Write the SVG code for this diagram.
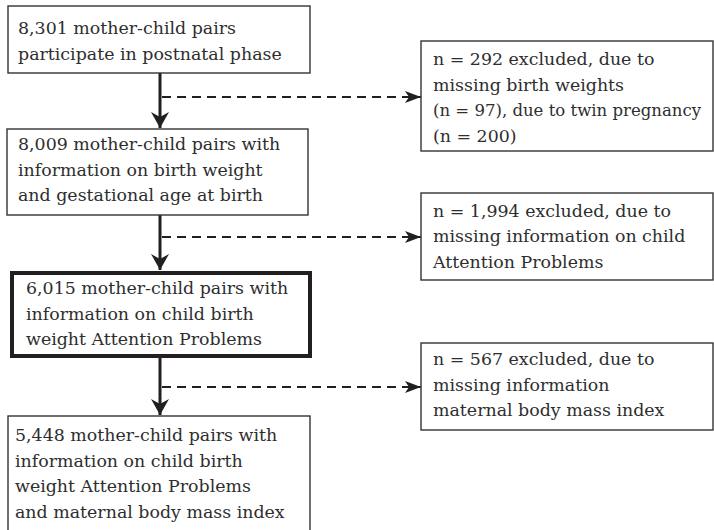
<svg xmlns="http://www.w3.org/2000/svg" width="714" height="530" viewBox="0 0 714 530">
<style>
  .box { fill: #ffffff; stroke: #333333; stroke-width: 1.4; }
  .thick { fill: #ffffff; stroke: #231f20; stroke-width: 4; }
  .t { font-family: "DejaVu Serif", "Liberation Serif", serif; font-size: 17.4px; fill: #2e2e2e; }
  .main { stroke: #231f20; stroke-width: 3; fill: none; }
  .dash { stroke: #231f20; stroke-width: 2; fill: none; stroke-dasharray: 9 6; }
</style>
<defs>
  <marker id="headV" markerUnits="userSpaceOnUse" markerWidth="18" markerHeight="18" refX="16" refY="9" orient="auto" viewBox="0 0 18 18">
    <path d="M0,0 L16,9 L0,18 L5,9 Z" fill="#231f20"/>
  </marker>
  <marker id="headH" markerUnits="userSpaceOnUse" markerWidth="16" markerHeight="13" refX="16" refY="6.5" orient="auto" viewBox="0 0 16 13">
    <path d="M0,0 L16,6.5 L0,13 L4,6.5 Z" fill="#231f20"/>
  </marker>
</defs>
<rect width="714" height="530" fill="#ffffff"/>

<g id="connectors">
  <line class="main" x1="160" y1="73" x2="160" y2="128" marker-end="url(#headV)"/>
  <line class="main" x1="160" y1="215" x2="160" y2="270" marker-end="url(#headV)"/>
  <line class="main" x1="160" y1="358" x2="160" y2="415" marker-end="url(#headV)"/>
  <line class="dash" x1="162" y1="97" x2="421" y2="97" stroke-dasharray="2 6 9 6 9 6 9 6 9 6 9 6 9 6 9 6 9 6 9 6 9 6 9 6 9 6 9 6 9 6 9 6 9 6 9 6"/>
  <line class="dash" x1="162" y1="237" x2="421" y2="237" stroke-dasharray="2 6 9 6 9 6 9 6 9 6 9 6 9 6 9 6 9 6 9 6 9 6 9 6 9 6 9 6 9 6 9 6 9 6 9 6"/>
  <line class="dash" x1="162" y1="387" x2="421" y2="387" stroke-dasharray="2 6 9 6 9 6 9 6 9 6 9 6 9 6 9 6 9 6 9 6 9 6 9 6 9 6 9 6 9 6 9 6 9 6 9 6"/>
  <path d="M405,91 L421,97 L405,103 L409,97 Z" fill="#231f20"/>
  <path d="M405,231 L421,237 L405,243 L409,237 Z" fill="#231f20"/>
  <path d="M405,381 L421,387 L405,393 L409,387 Z" fill="#231f20"/>
</g>

<g id="node1">
  <rect class="box" x="8" y="6" width="302" height="67"/>
  <text class="t" x="18" y="34">8,301 mother-child pairs</text>
  <text class="t" x="18" y="59.5">participate in postnatal phase</text>
</g>

<g id="node2">
  <rect class="box" x="7" y="129" width="301" height="86"/>
  <text class="t" x="18" y="150">8,009 mother-child pairs with</text>
  <text class="t" x="18" y="175.5">information on birth weight</text>
  <text class="t" x="18" y="201">and gestational age at birth</text>
</g>

<g id="node3">
  <rect class="thick" x="12" y="273" width="298" height="83"/>
  <text class="t" x="26" y="294">6,015 mother-child pairs with</text>
  <text class="t" x="26" y="319.5">information on child birth</text>
  <text class="t" x="26" y="345">weight Attention Problems</text>
</g>

<g id="node4">
  <rect class="box" x="8" y="416" width="302" height="130"/>
  <text class="t" x="15" y="441">5,448 mother-child pairs with</text>
  <text class="t" x="15" y="466.5">information on child birth</text>
  <text class="t" x="15" y="492">weight Attention Problems</text>
  <text class="t" x="15" y="517.5">and maternal body mass index</text>
</g>

<g id="excl1">
  <rect class="box" x="421" y="41" width="292" height="110"/>
  <text class="t" x="433" y="65">n = 292 excluded, due to</text>
  <text class="t" x="433" y="90.5">missing birth weights</text>
  <text class="t" x="433" y="116" textLength="268" lengthAdjust="spacingAndGlyphs">(n = 97), due to twin pregnancy</text>
  <text class="t" x="433" y="141.5">(n = 200)</text>
</g>

<g id="excl2">
  <rect class="box" x="421" y="193" width="292" height="87"/>
  <text class="t" x="433" y="216.5">n = 1,994 excluded, due to</text>
  <text class="t" x="433" y="242">missing information on child</text>
  <text class="t" x="433" y="267.5">Attention Problems</text>
</g>

<g id="excl3">
  <rect class="box" x="421" y="343" width="292" height="87"/>
  <text class="t" x="433" y="365">n = 567 excluded, due to</text>
  <text class="t" x="433" y="390.5">missing information</text>
  <text class="t" x="433" y="416">maternal body mass index</text>
</g>
</svg>
